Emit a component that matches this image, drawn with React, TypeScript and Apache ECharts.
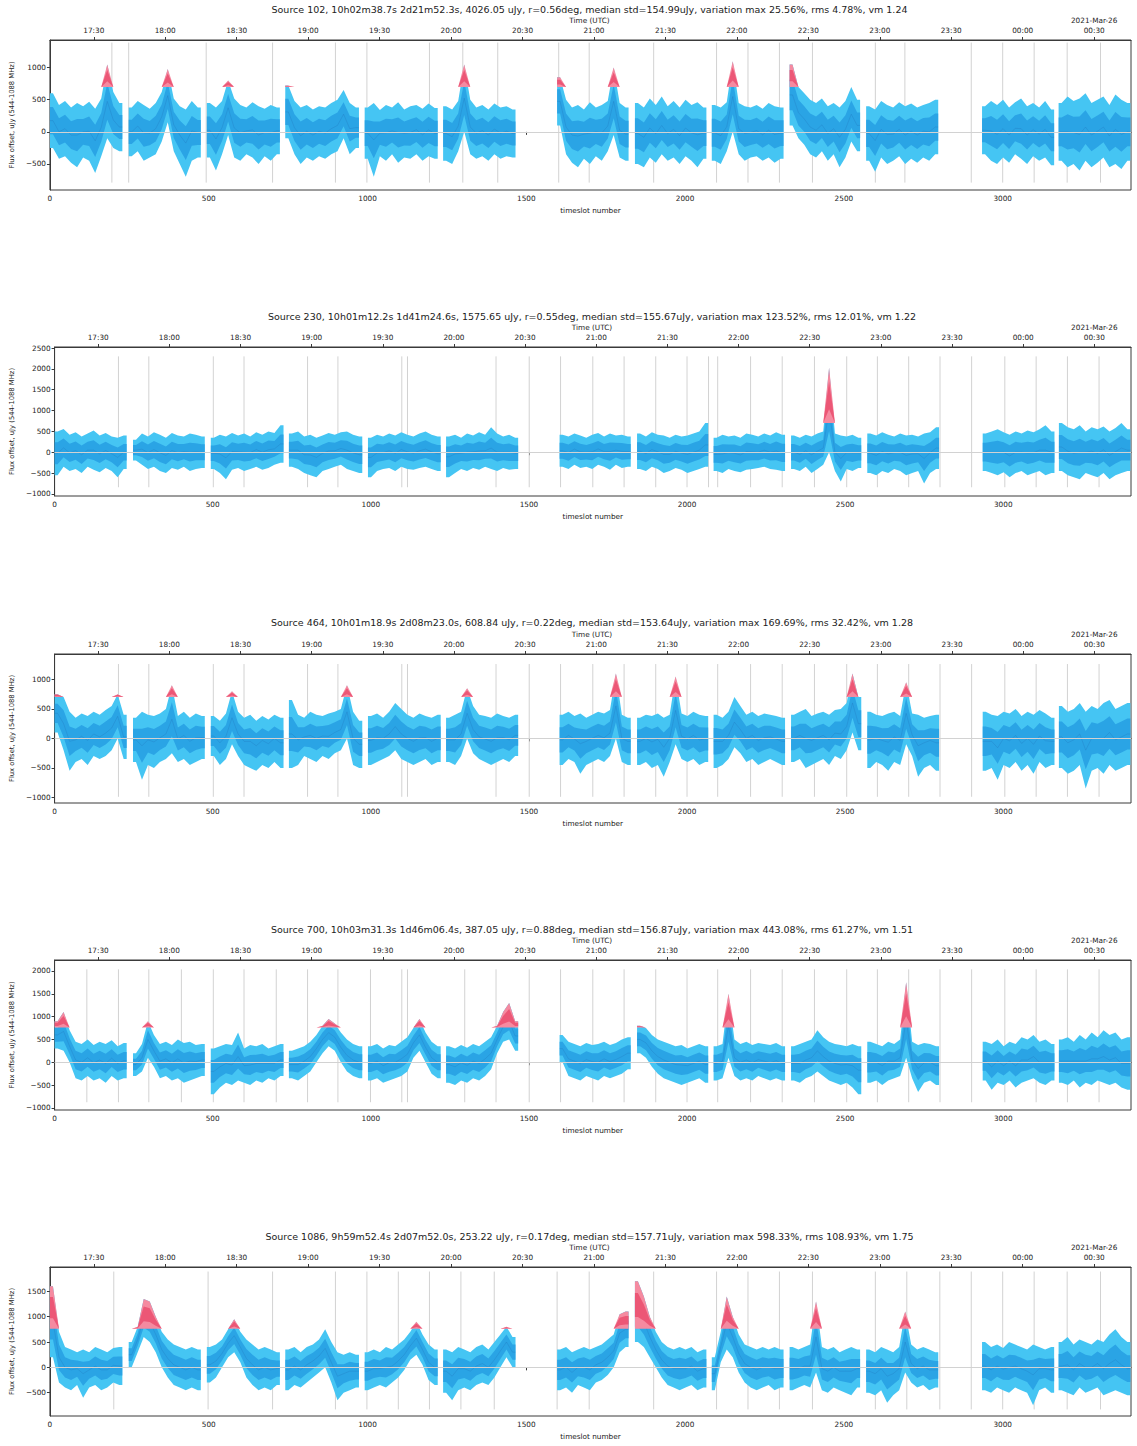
import React, { useEffect, useRef } from "react";
import * as echarts from "echarts";

// ---------------- DATA ----------------
const X_MAX = 3404;
// contiguous timeslot ranges that hold data
const SEGMENTS: [number, number][] = [
  [0, 228], [248, 475], [494, 724], [741, 973], [991, 1221], [1238, 1466],
  [1597, 1822], [1842, 2067], [2084, 2310], [2329, 2551], [2570, 2797],
  [2935, 3162], [3176, 3402],
];
const BINS = 12; // envelope samples per segment

const TITLES = [
  "Source 102, 10h02m38.7s 2d21m52.3s, 4026.05 uJy, r=0.56deg, median std=154.99uJy, variation max 25.56%, rms 4.78%, vm 1.24",
  "Source 230, 10h01m12.2s 1d41m24.6s, 1575.65 uJy, r=0.55deg, median std=155.67uJy, variation max 123.52%, rms 12.01%, vm 1.22",
  "Source 464, 10h01m18.9s 2d08m23.0s, 608.84 uJy, r=0.22deg, median std=153.64uJy, variation max 169.69%, rms 32.42%, vm 1.28",
  "Source 700, 10h03m31.3s 1d46m06.4s, 387.05 uJy, r=0.88deg, median std=156.87uJy, variation max 443.08%, rms 61.27%, vm 1.51",
  "Source 1086, 9h59m52.4s 2d07m52.0s, 253.22 uJy, r=0.17deg, median std=157.71uJy, variation max 598.33%, rms 108.93%, vm 1.75",
];

const TIME_LABELS = ["17:30", "18:00", "18:30", "19:00", "19:30", "20:00", "20:30", "21:00", "21:30", "22:00", "22:30", "23:00", "23:30", "00:00", "00:30"];
const DATE_LABEL = "2021-Mar-26";
const TOP_AXIS_NAME = "Time (UTC)";
const START_TIME = "17:11:36"; // UTC time of timeslot 0
const SLOT_SECONDS = 8;

const Y_RANGES: [number, number][] = [[-905, 1430], [-1050, 2525], [-1095, 1430], [-1045, 2240], [-960, 1980]];
const Y_TICKS = [
  [-500, 0, 500, 1000],
  [-1000, -500, 0, 500, 1000, 1500, 2000, 2500],
  [-1000, -500, 0, 500, 1000],
  [-1000, -500, 0, 500, 1000, 1500, 2000],
  [-500, 0, 500, 1000, 1500],
];
const RED_LEVEL = [700, 700, 700, 760, 760];

// flagged timeslots (thin grey vertical marks) and their extent in uJy
const VLINES = [
  [195, 248, 492, 701, 899, 998, 1195, 1300, 1410, 1602, 1698, 1901, 2099, 2198, 2297, 2401, 2599, 2692, 2901, 3000, 3099, 3203, 3308],
  [202, 298, 502, 599, 800, 896, 1098, 1116, 1396, 1501, 1600, 1702, 1801, 1901, 2000, 2068, 2097, 2201, 2301, 2403, 2505, 2602, 2701, 2800, 2900, 3005, 3104, 3203, 3303],
  [202, 298, 502, 599, 800, 896, 1098, 1116, 1396, 1501, 1600, 1702, 1801, 1901, 2000, 2097, 2201, 2301, 2403, 2505, 2602, 2701, 2800, 2900, 3005, 3104, 3203, 3303],
  [102, 202, 298, 401, 502, 599, 701, 800, 896, 999, 1098, 1116, 1297, 1396, 1501, 1600, 1702, 1801, 1901, 2000, 2097, 2201, 2301, 2403, 2505, 2602, 2701, 2800, 2900, 3005, 3104, 3203, 3303],
  [201, 498, 701, 899, 998, 1097, 1195, 1294, 1399, 1597, 1698, 1901, 2099, 2198, 2297, 2401, 2599, 2698, 2802, 2901, 3000, 3099, 3203, 3308],
];
const VLINE_SPAN: [number, number][] = [[-790, 1390], [-840, 2300], [-990, 1260], [-875, 2035], [-830, 1890]];

// upper / lower envelope of the flux points (uJy), 12 samples per segment
const P1_HI = [
  [600, 420, 480, 380, 450, 400, 470, 360, 520, 1050, 620, 450],
  [380, 480, 420, 360, 450, 620, 980, 520, 400, 350, 480, 380],
  [450, 380, 480, 800, 520, 420, 380, 460, 400, 360, 420, 380],
  [720, 480, 380, 420, 350, 400, 380, 450, 500, 650, 450, 380],
  [380, 450, 340, 420, 380, 460, 350, 400, 420, 360, 440, 370],
  [400, 350, 480, 1050, 500, 380, 420, 350, 440, 380, 400, 350],
  [850, 500, 380, 420, 350, 460, 380, 420, 480, 1000, 450, 380],
  [450, 380, 520, 420, 550, 400, 480, 380, 500, 420, 460, 380],
  [420, 380, 460, 1100, 450, 400, 380, 420, 360, 450, 400, 380],
  [1050, 700, 600, 500, 450, 520, 400, 450, 380, 480, 700, 500],
  [400, 350, 480, 420, 380, 460, 400, 440, 380, 420, 450, 500],
  [400, 480, 420, 500, 380, 460, 520, 400, 450, 380, 480, 350],
  [450, 550, 480, 520, 600, 450, 500, 550, 420, 580, 500, 450],
];
const P1_LO = [
  [-250, -420, -380, -480, -550, -400, -450, -640, -380, -100, -250, -300],
  [-380, -300, -450, -400, -350, -150, 150, -300, -500, -700, -450, -400],
  [-400, -600, -350, -50, -400, -450, -350, -400, -500, -380, -450, -350],
  [-100, -350, -500, -400, -450, -380, -420, -350, -300, -100, -350, -250],
  [-420, -700, -380, -450, -350, -480, -400, -420, -350, -450, -380, -420],
  [-450, -500, -300, 0, -350, -420, -380, -450, -350, -420, -380, -400],
  [100, -350, -480, -550, -420, -500, -380, -450, -300, -50, -400, -450],
  [-500, -550, -400, -480, -350, -450, -400, -500, -380, -450, -550, -420],
  [-450, -500, -300, 0, -350, -450, -400, -380, -450, -400, -480, -420],
  [100, -100, -200, -350, -400, -300, -450, -350, -550, -400, -150, -300],
  [-450, -620, -400, -500, -450, -380, -500, -420, -480, -400, -450, -350],
  [-350, -450, -500, -400, -480, -350, -420, -500, -380, -450, -400, -520],
  [-450, -550, -500, -600, -450, -550, -480, -400, -550, -500, -580, -450],
];

const P2_HI = [
  [500, 560, 420, 480, 380, 450, 520, 400, 460, 380, 350, 400],
  [300, 450, 380, 480, 420, 350, 460, 400, 380, 450, 420, 380],
  [350, 420, 380, 460, 400, 450, 380, 480, 420, 500, 460, 650],
  [450, 500, 380, 420, 350, 400, 460, 420, 480, 500, 420, 380],
  [350, 420, 380, 450, 400, 480, 420, 380, 450, 500, 420, 380],
  [380, 420, 350, 450, 400, 480, 420, 600, 450, 380, 420, 350],
  [420, 380, 450, 400, 350, 420, 460, 380, 450, 400, 420, 380],
  [450, 380, 480, 420, 400, 350, 420, 380, 400, 450, 500, 700],
  [350, 420, 380, 400, 350, 450, 420, 380, 450, 400, 480, 420],
  [400, 350, 420, 380, 450, 500, 2030, 450, 400, 380, 420, 350],
  [450, 400, 480, 420, 380, 450, 400, 420, 380, 450, 480, 600],
  [450, 500, 550, 480, 420, 500, 450, 520, 480, 550, 650, 500],
  [700, 600, 550, 650, 500, 600, 550, 620, 500, 580, 700, 550],
];
const P2_LO = [
  [-550, -350, -450, -400, -500, -350, -420, -480, -380, -450, -600, -400],
  [-200, -300, -400, -350, -450, -500, -380, -420, -350, -450, -400, -380],
  [-400, -500, -650, -420, -380, -450, -400, -350, -420, -380, -300, -250],
  [-350, -400, -500, -550, -600, -450, -400, -350, -300, -400, -450, -500],
  [-600, -450, -400, -380, -450, -350, -400, -420, -380, -350, -400, -450],
  [-600, -500, -400, -450, -380, -420, -350, -400, -450, -380, -420, -400],
  [-350, -400, -300, -380, -350, -400, -300, -350, -420, -300, -380, -350],
  [-400, -450, -350, -400, -500, -450, -380, -420, -500, -450, -400, -350],
  [-450, -500, -400, -450, -480, -420, -400, -380, -350, -400, -420, -450],
  [-400, -450, -350, -500, -400, -300, 0, -450, -700, -400, -450, -380],
  [-500, -550, -450, -500, -400, -450, -550, -500, -450, -750, -500, -400],
  [-450, -500, -550, -480, -600, -500, -450, -550, -500, -450, -550, -500],
  [-450, -550, -600, -650, -500, -550, -600, -500, -650, -550, -500, -450],
];

const P3_HI = [
  [750, 700, 450, 350, 420, 380, 450, 400, 480, 550, 750, 400],
  [350, 450, 400, 380, 420, 500, 900, 380, 450, 350, 420, 380],
  [380, 300, 420, 800, 450, 350, 400, 300, 380, 320, 400, 350],
  [650, 400, 350, 450, 400, 380, 420, 450, 500, 900, 450, 300],
  [380, 420, 350, 450, 600, 500, 400, 350, 420, 380, 350, 400],
  [350, 400, 450, 850, 550, 400, 380, 350, 420, 380, 350, 400],
  [400, 450, 380, 420, 350, 400, 450, 420, 480, 1100, 400, 350],
  [350, 400, 380, 420, 350, 400, 1050, 420, 380, 450, 400, 380],
  [400, 350, 450, 700, 550, 400, 450, 380, 420, 400, 380, 350],
  [400, 450, 500, 380, 420, 450, 400, 480, 500, 600, 1100, 700],
  [450, 400, 380, 420, 450, 380, 950, 420, 400, 350, 380, 400],
  [450, 400, 380, 450, 420, 500, 380, 450, 400, 480, 420, 350],
  [550, 450, 500, 600, 450, 550, 500, 600, 650, 500, 550, 600],
];
const P3_LO = [
  [100, -200, -550, -400, -350, -450, -300, -350, -300, -200, 0, -350],
  [-400, -700, -450, -500, -400, -350, -250, -400, -350, -450, -400, -350],
  [-300, -450, -350, -100, -300, -450, -500, -550, -450, -500, -400, -500],
  [-500, -450, -300, -350, -400, -300, -350, -250, -200, 0, -450, -500],
  [-450, -400, -350, -300, -200, -350, -400, -450, -400, -350, -450, -400],
  [-400, -450, -300, 0, -250, -350, -400, -450, -400, -350, -400, -300],
  [-450, -350, -400, -600, -450, -400, -350, -400, -300, 0, -400, -450],
  [-450, -400, -500, -450, -650, -400, -100, -350, -400, -350, -450, -400],
  [-500, -450, -350, -150, -250, -400, -350, -450, -400, -350, -400, -450],
  [-400, -350, -500, -450, -400, -350, -450, -300, -350, -200, 100, -200],
  [-500, -400, -450, -550, -400, -450, -100, -300, -650, -500, -450, -550],
  [-550, -500, -700, -450, -500, -400, -550, -450, -600, -400, -500, -450],
  [-500, -600, -550, -450, -850, -550, -500, -600, -450, -550, -500, -450],
];

const P4_HI = [
  [900, 1100, 700, 450, 400, 500, 380, 450, 400, 480, 350, 420],
  [200, 400, 900, 600, 400, 450, 380, 500, 420, 450, 380, 400],
  [300, 350, 400, 380, 650, 300, 380, 350, 400, 300, 350, 400],
  [250, 300, 350, 450, 600, 800, 950, 850, 650, 500, 400, 350],
  [350, 400, 300, 380, 350, 450, 550, 750, 950, 650, 450, 350],
  [350, 300, 380, 320, 400, 350, 450, 550, 800, 1100, 1300, 900],
  [600, 450, 400, 350, 420, 380, 400, 450, 380, 420, 500, 550],
  [800, 750, 600, 500, 450, 400, 350, 380, 300, 350, 400, 350],
  [350, 400, 1500, 500, 400, 450, 380, 420, 400, 380, 420, 350],
  [350, 400, 450, 500, 700, 550, 450, 400, 380, 350, 400, 350],
  [450, 400, 350, 450, 400, 500, 1750, 450, 380, 420, 400, 350],
  [450, 400, 500, 350, 450, 400, 550, 500, 600, 450, 500, 400],
  [500, 550, 450, 600, 500, 650, 550, 700, 600, 650, 500, 550],
];
const P4_LO = [
  [300, 250, 0, -350, -400, -300, -400, -350, -450, -300, -400, -350],
  [-300, -200, 100, -100, -350, -300, -400, -350, -450, -400, -350, -300],
  [-700, -550, -450, -500, -400, -450, -500, -400, -450, -350, -400, -300],
  [-350, -400, -300, -200, 0, 200, 350, 250, 0, -200, -300, -350],
  [-400, -350, -450, -400, -350, -300, -200, 100, 250, 0, -250, -350],
  [-450, -500, -400, -450, -350, -400, -300, -150, 200, 450, 500, 250],
  [0, -300, -350, -400, -300, -350, -400, -300, -350, -300, -250, -150],
  [200, 100, -100, -250, -350, -400, -450, -500, -450, -400, -350, -450],
  [-400, -350, 100, -300, -400, -350, -400, -300, -350, -400, -350, -400],
  [-400, -450, -350, -300, -200, -300, -400, -450, -500, -450, -550, -700],
  [-450, -400, -500, -400, -350, -300, 100, -350, -650, -450, -400, -500],
  [-400, -600, -450, -500, -400, -550, -450, -400, -350, -450, -500, -400],
  [-450, -500, -400, -550, -450, -500, -400, -450, -500, -450, -550, -600],
];

const P5_HI = [
  [1600, 700, 400, 350, 300, 350, 300, 400, 350, 300, 380, 400],
  [500, 800, 1350, 1300, 1000, 700, 550, 450, 400, 350, 400, 350],
  [400, 450, 550, 750, 950, 700, 550, 450, 350, 400, 350, 300],
  [350, 400, 300, 400, 450, 550, 750, 500, 300, 250, 300, 250],
  [300, 350, 300, 400, 350, 450, 550, 700, 900, 650, 450, 350],
  [350, 300, 400, 350, 300, 400, 450, 350, 500, 650, 800, 600],
  [350, 400, 300, 350, 400, 350, 400, 450, 550, 650, 1050, 1100],
  [1700, 1400, 1000, 700, 500, 400, 350, 400, 350, 400, 300, 350],
  [200, 700, 1400, 1000, 650, 450, 400, 350, 400, 350, 400, 350],
  [400, 350, 400, 450, 1300, 400, 350, 400, 300, 350, 400, 350],
  [350, 300, 400, 350, 300, 400, 1100, 450, 350, 400, 350, 300],
  [500, 400, 450, 380, 500, 450, 400, 350, 450, 400, 350, 400],
  [500, 600, 450, 550, 500, 450, 550, 500, 650, 750, 600, 500],
];
const P5_LO = [
  [200, -300, -400, -450, -350, -600, -400, -350, -450, -400, -300, -350],
  [0, 300, 600, 500, 300, 0, -200, -350, -400, -450, -400, -450],
  [-300, -200, 0, 200, 300, 100, -200, -350, -450, -400, -450, -350],
  [-450, -350, -400, -300, -200, -100, 0, -300, -650, -500, -450, -400],
  [-450, -400, -350, -400, -300, -200, -50, 150, 250, 50, -250, -350],
  [-500, -650, -450, -400, -450, -350, -300, -350, -200, 0, 200, 0],
  [-450, -400, -500, -350, -400, -450, -300, -250, -150, 0, 300, 400],
  [500, 400, 200, 0, -200, -350, -400, -450, -400, -350, -450, -400],
  [-450, 100, 350, 200, -100, -300, -400, -450, -400, -350, -450, -400],
  [-450, -400, -350, -400, -100, -450, -500, -400, -450, -500, -550, -400],
  [-500, -550, -450, -700, -550, -450, -100, -300, -400, -350, -450, -400],
  [-450, -500, -400, -450, -500, -400, -450, -500, -750, -450, -400, -500],
  [-450, -500, -550, -400, -500, -450, -400, -550, -500, -450, -500, -550],
];

const PANEL_HI = [P1_HI, P2_HI, P3_HI, P4_HI, P5_HI];
const PANEL_LO = [P1_LO, P2_LO, P3_LO, P4_LO, P5_LO];

// ---------------- LAYOUT / STYLE ----------------
const FONT = "DejaVu Sans";
const PLOT_RIGHT = 1131;
const LAYOUT = [
  { left: 48, top: 40, height: 150, titleY: 9 },
  { left: 53, top: 347, height: 149, titleY: 316 },
  { left: 53, top: 654, height: 149, titleY: 622 },
  { left: 53, top: 960, height: 150, titleY: 929 },
  { left: 48, top: 1267, height: 149, titleY: 1236 },
];
const C_OUTER = "#45c5f3";
const C_CORE = "#2298e0";
const C_MID = "#1c4f9c";
const C_RED = "#f58aa0";
const C_RED_CORE = "#ea4a6c";
const C_TEXT = "#222";
const C_FRAME = "#3a3a3a";

function toSec(t: string) {
  const p = t.split(":").map(Number);
  return p[0] * 3600 + p[1] * 60 + (p[2] || 0);
}
const START_SEC = toSec(START_TIME);
const TIME_SLOTS = TIME_LABELS.map((t) => {
  let s = toSec(t);
  if (s < START_SEC) s += 86400;
  return (s - START_SEC) / SLOT_SECONDS;
});

function minus(v: number) {
  return String(v).replace("-", "\u2212");
}

function buildOption() {
  const grid: any[] = [];
  const xAxis: any[] = [];
  const yAxis: any[] = [];
  const series: any[] = [];
  const graphic: any[] = [];
  const lab = { fontFamily: FONT, fontSize: 7.3, color: C_TEXT };

  LAYOUT.forEach((L, i) => {
    const w = PLOT_RIGHT - L.left;
    const cx = (L.left + PLOT_RIGHT) / 2;
    grid.push({ left: L.left, top: L.top, width: w, height: L.height, show: true, borderColor: C_FRAME, borderWidth: 1, backgroundColor: "transparent" });
    xAxis.push({
      gridIndex: i, type: "value", position: "bottom", min: 0, max: X_MAX, interval: 500,
      axisLine: { show: true, lineStyle: { color: C_FRAME } },
      axisTick: { show: true, length: 3, lineStyle: { color: C_FRAME } },
      axisLabel: { ...lab, margin: 5, showMaxLabel: false, formatter: (v: number) => String(v) },
      splitLine: { show: false },
      name: "timeslot number", nameLocation: "middle", nameGap: 17,
      nameTextStyle: { fontFamily: FONT, fontSize: 7.3, color: C_TEXT },
    });
    xAxis.push({
      gridIndex: i, type: "value", position: "top", min: 0, max: X_MAX,
      axisLine: { show: true, lineStyle: { color: C_FRAME } },
      axisTick: { show: true, length: 3, customValues: TIME_SLOTS, lineStyle: { color: C_FRAME } },
      axisLabel: {
        ...lab, margin: 5, lineHeight: 10, customValues: TIME_SLOTS,
        formatter: (v: number) => {
          const k = TIME_SLOTS.findIndex((s) => Math.abs(s - v) < 0.5);
          if (k < 0) return "";
          return k === TIME_SLOTS.length - 1 ? DATE_LABEL + "\n" + TIME_LABELS[k] : TIME_LABELS[k];
        },
      },
      splitLine: { show: false },
    });
    yAxis.push({
      gridIndex: i, type: "value", min: Y_RANGES[i][0], max: Y_RANGES[i][1],
      axisLine: { show: true, lineStyle: { color: C_FRAME } },
      axisTick: { show: true, length: 3, customValues: Y_TICKS[i], lineStyle: { color: C_FRAME } },
      axisLabel: { ...lab, margin: 4, customValues: Y_TICKS[i], formatter: (v: number) => minus(v) },
      splitLine: { show: false },
      name: "Flux offset, uJy (544-1088 MHz)", nameLocation: "middle", nameRotate: 90, nameGap: L.left - 18,
      nameTextStyle: { fontFamily: FONT, fontSize: 6.8, color: C_TEXT },
    });

    graphic.push({
      type: "text", x: cx, y: L.titleY,
      style: { text: TITLES[i], fontFamily: FONT, fontSize: 9.5, fill: C_TEXT, textAlign: "center", textVerticalAlign: "middle" },
    });
    graphic.push({
      type: "text", x: cx, y: L.top - 20,
      style: { text: TOP_AXIS_NAME, fontFamily: FONT, fontSize: 7.3, fill: C_TEXT, textAlign: "center", textVerticalAlign: "middle" },
    });

    const span = VLINE_SPAN[i];
    series.push({
      type: "custom", xAxisIndex: 2 * i, yAxisIndex: i, clip: true, silent: true,
      data: VLINES[i].map((s) => [s, span[0]]),
      encode: { x: 0, y: 1 },
      renderItem: (params: any, api: any) => {
        const x = api.value(0);
        const a = api.coord([x, span[0]]);
        const b = api.coord([x, span[1]]);
        return { type: "line", shape: { x1: a[0], y1: a[1], x2: b[0], y2: b[1] }, style: { stroke: "#cdcdcd", lineWidth: 0.9 } };
      },
      markLine: {
        silent: true, symbol: "none", label: { show: false },
        lineStyle: { color: "#d2d2d2", width: 1, type: "solid" },
        data: [{ yAxis: 0 }],
      },
      z: 1,
    });

    const HI = PANEL_HI[i];
    const LO = PANEL_LO[i];
    const thr = RED_LEVEL[i];
    series.push({
      type: "custom", xAxisIndex: 2 * i, yAxisIndex: i, clip: true, silent: true,
      data: SEGMENTS.map((s, k) => [s[0], 0, k]),
      encode: { x: 0, y: 1 },
      z: 3,
      renderItem: (params: any, api: any) => {
        const k = params.dataIndex;
        const [s0, s1] = SEGMENTS[k];
        const bw = (s1 - s0) / BINS;
        const xs: number[] = [s0];
        const hs: number[] = [HI[k][0]];
        const ls: number[] = [LO[k][0]];
        for (let b = 0; b < BINS; b++) {
          xs.push(s0 + (b + 0.5) * bw);
          hs.push(HI[k][b]);
          ls.push(LO[k][b]);
        }
        xs.push(s1);
        hs.push(HI[k][BINS - 1]);
        ls.push(LO[k][BINS - 1]);
        const band = (top: number[], bot: number[]) => {
          const t = xs.map((x, j) => api.coord([x, top[j]]));
          const b = xs.map((x, j) => api.coord([x, bot[j]])).reverse();
          return t.concat(b);
        };
        const mid = hs.map((h, j) => (h + ls[j]) / 2);
        const coreTop = hs.map((h, j) => mid[j] + (h - ls[j]) * 0.25);
        const coreBot = hs.map((h, j) => mid[j] - (h - ls[j]) * 0.25);
        const midPts = xs.map((x, j) => api.coord([x, mid[j]]));
        const children: any[] = [
          { type: "polygon", shape: { points: band(hs, ls) }, style: { fill: C_OUTER } },
          { type: "polygon", shape: { points: band(coreTop, coreBot) }, style: { fill: C_CORE, opacity: 0.75 } },
          { type: "polyline", shape: { points: midPts }, style: { stroke: C_MID, lineWidth: 0.8, opacity: 0.2, fill: "none" } },
        ];
        if (hs.some((h) => h > thr)) {
          const rt = hs.map((h) => Math.max(h, thr));
          const rb = ls.map((l) => Math.max(l, thr));
          children.push({ type: "polygon", shape: { points: band(rt, rb) }, style: { fill: C_RED } });
          const rct = hs.map((h, j) => Math.max(h - (h - Math.max(ls[j], thr)) * 0.25, thr));
          const rcb = ls.map((l, j) => Math.max(Math.max(l, thr) + (hs[j] - Math.max(l, thr)) * 0.25, thr));
          children.push({ type: "polygon", shape: { points: band(rct, rcb) }, style: { fill: C_RED_CORE, opacity: 0.8 } });
        }
        return { type: "group", children };
      },
    });
  });

  return { animation: false, backgroundColor: "#fff", grid, xAxis, yAxis, series, graphic };
}

export default function App() {
  const ref = useRef<HTMLDivElement>(null);
  useEffect(() => {
    document.body.style.margin = "0";
    const chart = echarts.init(ref.current as HTMLDivElement, null, { renderer: "svg" });
    chart.setOption(buildOption() as any);
    return () => chart.dispose();
  }, []);
  return <div ref={ref} style={{ width: 1137, height: 1446, background: "#fff" }} />;
}
